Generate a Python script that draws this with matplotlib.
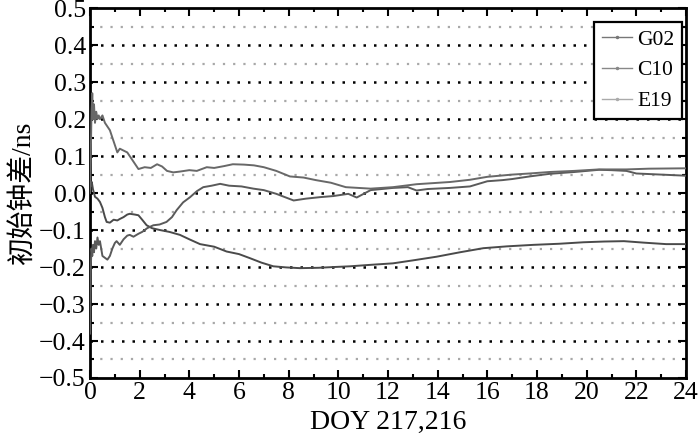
import matplotlib
matplotlib.use("Agg")
import matplotlib.pyplot as plt
from matplotlib.lines import Line2D
from matplotlib.ticker import MultipleLocator, FuncFormatter

plt.rcParams['font.family'] = ['Liberation Serif', 'Noto Sans CJK SC', 'DejaVu Sans']
plt.rcParams['axes.unicode_minus'] = True

# G02 - curva de baixo
g02_x = [0.03, 0.07, 0.12, 0.2, 0.3, 0.4, 0.5, 0.6, 0.67, 0.8, 0.95, 1.1, 1.2, 1.35, 1.5,
         1.6, 1.8, 1.95, 2.1, 2.28, 2.5, 2.82, 3.2, 3.62, 4.0, 4.43, 5.0, 5.5, 6.0, 6.44,
         6.9, 7.38, 7.9, 8.46, 9.2, 9.8, 10.47, 11.3, 12.2, 13.0, 13.96, 14.9, 15.84,
         16.8, 17.85, 18.9, 19.87, 20.7, 21.5, 22.3, 23.2, 24.0]
g02_y = [0.02, 0.03, 0.01, -0.01, -0.015, -0.024, -0.04, -0.065, -0.078, -0.08, -0.072,
         -0.074, -0.07, -0.065, -0.058, -0.056, -0.058, -0.06, -0.072, -0.087, -0.095,
         -0.1, -0.105, -0.113, -0.125, -0.138, -0.145, -0.158, -0.165, -0.176, -0.188,
         -0.198, -0.201, -0.203, -0.202, -0.2, -0.198, -0.194, -0.19, -0.182, -0.172,
         -0.16, -0.149, -0.144, -0.14, -0.137, -0.133, -0.131, -0.13, -0.134, -0.138, -0.138]

# C10 - curva do meio
c10_x = [0.0, 0.03, 0.06, 0.09, 0.12, 0.16, 0.2, 0.25, 0.3, 0.35, 0.4, 0.45, 0.5, 0.6, 0.7,
         0.8, 0.9, 1.0, 1.07, 1.2, 1.35, 1.5, 1.6, 1.75, 1.95, 2.1, 2.3, 2.55, 2.8, 3.08,
         3.3, 3.49, 3.75, 4.03, 4.3, 4.56, 4.9, 5.24, 5.6, 6.1, 6.58, 7.0, 7.5, 8.2, 8.7,
         9.26, 9.8, 10.4, 10.74, 11.3, 12.2, 12.8, 13.15, 13.6, 14.5, 15.3, 16.0, 16.6,
         17.0, 17.7, 18.5, 19.5, 20.5, 21.0, 21.6, 22.0, 23.0, 24.0]
c10_y = [-0.38, -0.2, -0.15, -0.17, -0.14, -0.16, -0.13, -0.15, -0.12, -0.14, -0.13, -0.15,
         -0.17, -0.175, -0.18, -0.17, -0.15, -0.135, -0.13, -0.14, -0.125, -0.115, -0.113,
         -0.118, -0.11, -0.105, -0.095, -0.087, -0.085, -0.078, -0.065, -0.046, -0.025,
         -0.011, 0.005, 0.016, 0.02, 0.025, 0.02, 0.018, 0.012, 0.008, -0.002, -0.02,
         -0.015, -0.011, -0.008, -0.002, -0.012, 0.008, 0.014, 0.016, 0.007, 0.011, 0.014,
         0.018, 0.032, 0.035, 0.038, 0.045, 0.052, 0.057, 0.063, 0.062, 0.06, 0.053, 0.05,
         0.047]

# E19 - curva de cima
e19_x = [0.0, 0.03, 0.06, 0.09, 0.12, 0.16, 0.2, 0.25, 0.3, 0.35, 0.4, 0.5, 0.6, 0.7, 0.8,
         0.9, 1.0, 1.1, 1.2, 1.35, 1.5, 1.7, 1.95, 2.2, 2.45, 2.7, 2.9, 3.1, 3.35, 3.6,
         3.8, 4.0, 4.3, 4.7, 5.0, 5.4, 5.75, 6.2, 6.6, 7.0, 7.5, 8.05, 8.6, 9.1, 9.7,
         10.3, 10.8, 11.3, 12.2, 13.15, 14.5, 15.3, 16.0, 17.0, 17.7, 18.5, 19.5, 20.5,
         21.6, 22.5, 24.0]
e19_y = [0.0, 0.1, 0.22, 0.27, 0.2, 0.24, 0.19, 0.22, 0.2, 0.21, 0.2, 0.21, 0.19, 0.18,
         0.17, 0.15, 0.13, 0.11, 0.12, 0.115, 0.11, 0.09, 0.065, 0.07, 0.068, 0.078, 0.072,
         0.06, 0.056, 0.058, 0.06, 0.062, 0.06, 0.07, 0.068, 0.073, 0.078, 0.077, 0.075,
         0.07, 0.06, 0.045, 0.042, 0.035, 0.028, 0.016, 0.014, 0.012, 0.016, 0.024, 0.03,
         0.036, 0.044, 0.05, 0.053, 0.057, 0.06, 0.064, 0.064, 0.066, 0.067]

nomes = ['G02', 'C10', 'E19']
cores_curva = ['#4a4a4a', '#5a5a5a', '#686868']
cores_legenda = ['#777777', '#888888', '#aaaaaa']

fig = plt.figure(figsize=(7, 4.45), dpi=100)
ax = fig.add_axes([0.1286, 0.1506, 0.8514, 0.831])

# grade
for v in [i / 10 for i in range(-4, 5)]:
    ax.axhline(v, color='black', lw=1.8, ls=(0, (1, 3.2)), zorder=1)
for v in [i / 10 + 0.05 for i in range(-5, 5)]:
    ax.axhline(v, color='#a8a8a8', lw=1.6, ls=(0, (1, 3.6)), zorder=1)

ax.plot(g02_x, g02_y, color=cores_curva[0], lw=1.4, zorder=3)
ax.plot(c10_x, c10_y, color=cores_curva[1], lw=1.4, zorder=3)
ax.plot(e19_x, e19_y, color=cores_curva[2], lw=1.4, zorder=3)

ax.set_xlim(0, 24)
ax.set_ylim(-0.5, 0.5)
ax.xaxis.set_major_locator(MultipleLocator(2))
ax.xaxis.set_minor_locator(MultipleLocator(1))
ax.yaxis.set_major_locator(MultipleLocator(0.1))
ax.yaxis.set_minor_locator(MultipleLocator(0.05))
ax.yaxis.set_major_formatter(FuncFormatter(lambda v, p: f"{v:.1f}".replace('-', '\u2212')))
ax.tick_params(which='both', direction='in', top=True, right=True, labelsize=18.5,
               width=1.5, pad=3)
ax.tick_params(which='major', length=6)
ax.tick_params(which='minor', length=3)
for s in ax.spines.values():
    s.set_linewidth(2)

ax.set_xlabel('DOY 217,216', fontsize=20, labelpad=4)
ax.set_ylabel('初始钟差/ns', fontsize=20, labelpad=2)

handles = [Line2D([], [], color=c, lw=1, marker='.', markersize=3) for c in cores_legenda]
leg = ax.legend(handles, nomes, loc='upper right', bbox_to_anchor=(0.974, 0.9506),
                bbox_transform=fig.transFigure, fontsize=15.5, frameon=True, fancybox=False,
                framealpha=1, edgecolor='black', handlelength=1.4, handletextpad=0.25,
                labelspacing=0.5, borderpad=0.35, borderaxespad=0)
leg.get_frame().set_linewidth(1.6)

fig.savefig('out.png', dpi=100)
